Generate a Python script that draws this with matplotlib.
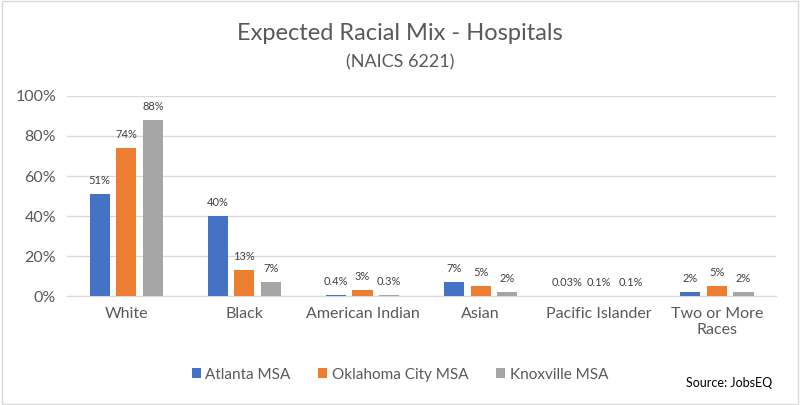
import matplotlib
matplotlib.use("Agg")
import matplotlib.pyplot as plt
import numpy as np
from matplotlib.patches import Rectangle

categories = ["White", "Black", "American Indian", "Asian", "Pacific Islander", "Two or More\nRaces"]
series_names = ["Atlanta MSA", "Oklahoma City MSA", "Knoxville MSA"]
atlanta = [51, 40, 0.4, 7, 0.03, 2]
okc = [74, 13, 3, 5, 0.1, 5]
knox = [88, 7, 0.3, 2, 0.1, 2]
atlanta_lbl = ["51%", "40%", "0.4%", "7%", "0.03%", "2%"]
okc_lbl = ["74%", "13%", "3%", "5%", "0.1%", "5%"]
knox_lbl = ["88%", "7%", "0.3%", "2%", "0.1%", "2%"]
colors = ["#4472C4", "#ED7D31", "#A5A5A5"]

plt.rcParams['font.family'] = ['Lato', 'DejaVu Sans']

fig = plt.figure(figsize=(8, 4.05), dpi=100)
ax = fig.add_axes([0.084, 0.269, 0.886, 0.494])

x = np.arange(len(categories))
w = 0.17
step = 0.225
data = [atlanta, okc, knox]
labels = [atlanta_lbl, okc_lbl, knox_lbl]
for i, (vals, lbls, c, name) in enumerate(zip(data, labels, colors, series_names)):
    pos = x + (i - 1) * step
    ax.bar(pos, vals, width=w, color=c, label=name, zorder=3)
    for j, (p, v, l) in enumerate(zip(pos, vals, lbls)):
        dx = 0
        if len(l) >= 4 and any(len(lb[j]) >= 5 for lb in labels):
            dx = (i - 1) * 4
        ax.annotate(l, (p, v), xytext=(dx, 6), textcoords='offset points',
                    ha='center', va='bottom', fontsize=8, color='#404040')

ax.set_xlim(-0.5, len(categories) - 0.5)
ax.set_ylim(0, 100)
ax.set_yticks([0, 20, 40, 60, 80, 100])
ax.set_yticklabels([f"{t}%" for t in [0, 20, 40, 60, 80, 100]], fontsize=11.5, color='#595959')
ax.set_xticks(x)
ax.set_xticklabels(categories, fontsize=11.5, color='#595959')
ax.tick_params(axis='both', length=0, pad=8)
ax.grid(axis='y', color='#D9D9D9', linewidth=1, zorder=0)
for s in ['top', 'right', 'left']:
    ax.spines[s].set_visible(False)
ax.spines['bottom'].set_color('#D9D9D9')

fig.text(0.5, 0.918, "Expected Racial Mix - Hospitals", ha='center', va='center', fontsize=17, color='#595959')
fig.text(0.5, 0.847, "(NAICS 6221)", ha='center', va='center', fontsize=13, color='#595959')

leg = fig.legend(loc='center', bbox_to_anchor=(0.5, 0.075), ncol=3, frameon=False, fontsize=11,
                 handlelength=0.6, handleheight=0.6, handletextpad=0.3, columnspacing=1.8, labelcolor='#595959')
fig.text(0.965, 0.055, "Source: JobsEQ", ha='right', va='center', fontsize=9, color='black')

fig.patches.append(Rectangle((0.002, 0.003), 0.996, 0.994, transform=fig.transFigure, fill=False,
                             edgecolor='#D9D9D9', linewidth=1))

fig.savefig("out.png", dpi=100)
